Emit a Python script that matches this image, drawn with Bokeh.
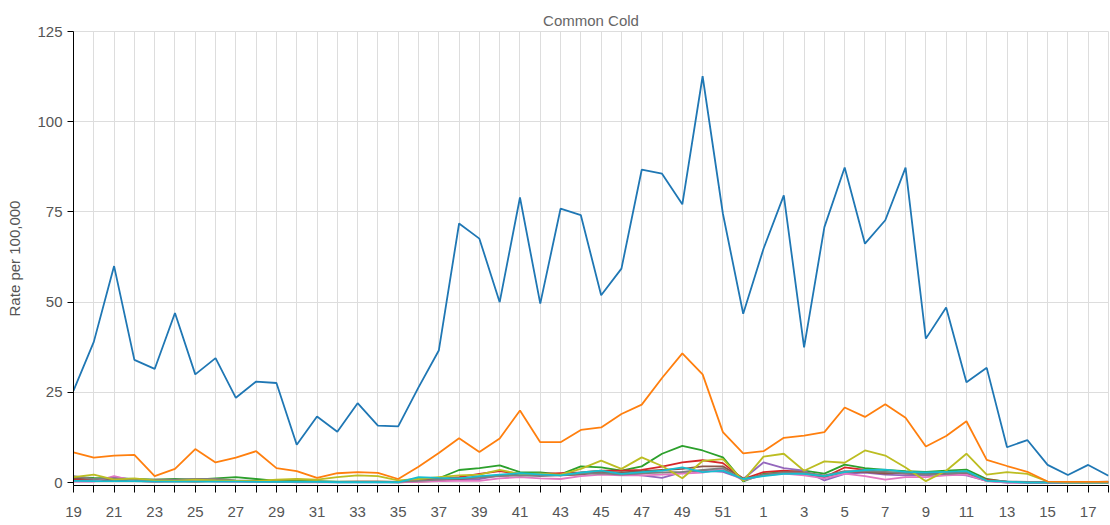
from bokeh.plotting import figure
from bokeh.models import Range1d, FixedTicker
from bokeh.embed import file_html
from bokeh.resources import INLINE

weeks = [str(w) for w in range(19, 53)] + [str(w) for w in range(1, 19)]

blue = [25.5, 39, 60, 34, 31.5, 47, 30, 34.5, 23.5, 28, 27.6, 10.5, 18.3, 14.1, 22, 15.8, 15.6,
        26.4, 36.6, 71.8, 67.6, 50, 79, 49.6, 75.9, 74.1, 51.9, 59.3, 86.7, 85.6, 77.1, 112.6, 74.5, 46.8,
        64.8, 79.6, 37.5, 70.8, 87.3, 66.2, 72.7, 87.3, 39.9, 48.5, 27.8, 31.8, 9.8, 11.8, 4.9, 2.1, 4.9, 1.9]
orange = [8.4, 6.9, 7.5, 7.7, 1.8, 3.8, 9.3, 5.6, 6.9, 8.7, 4.0, 3.2, 1.3, 2.6, 2.9, 2.7, 1.0,
          4.4, 8.2, 12.3, 8.5, 12.2, 20, 11.2, 11.2, 14.6, 15.3, 19.0, 21.6, 29, 35.8, 30, 14, 8.1,
          8.7, 12.4, 13, 14, 20.8, 18.2, 21.7, 18, 10, 12.9, 17, 6.3, 4.6, 3.0, 0.3, 0.2, 0.2, 0.2]
green = [1.5, 1.3, 1.2, 1.0, 0.8, 1.0, 0.8, 1.2, 1.5, 1.0, 0.5, 0.5, 0.4, 0.3, 0.3, 0.3, 0.2,
         1.0, 1.2, 3.5, 4.0, 4.8, 2.9, 2.8, 2.3, 4.5, 4.2, 3.3, 4.5, 8, 10.2, 8.9, 7, 0.3,
         2.4, 3, 3.3, 2.5, 5, 4, 3.5, 3.2, 3.0, 3.3, 3.6, 1.0, 0.2, 0, 0, 0, 0, 0]
red = [0.8, 0.6, 0.5, 0.5, 0.3, 0.4, 0.3, 0.5, 0.4, 0.3, 0.2, 0.2, 0.2, 0.2, 0.3, 0.3, 0.2,
       0.5, 1.0, 1.5, 2.4, 3.2, 2.4, 2.4, 2.6, 2.8, 3.3, 3.3, 3.5, 4.4, 5.6, 6.2, 5.4, 1,
       2.9, 3.3, 2.9, 1.5, 4.2, 3.5, 2.8, 2.5, 2.2, 2.5, 2.8, 0.8, 0.3, 0.1, 0, 0, 0, 0]
purple = [0.5, 0.5, 1.5, 0.8, 0.5, 0.5, 0.5, 0.8, 0.5, 0.3, 0.3, 0.2, 0.2, 0.2, 0.2, 0.2, 0.2,
          0.4, 0.5, 0.8, 1.0, 2.0, 2.3, 2.0, 2.2, 2.5, 2.9, 2.4, 2.0, 1.3, 2.9, 3.3, 3.0, 1,
          5.6, 4, 3.3, 0.6, 2.4, 2.8, 2.2, 2.0, 2.0, 2.4, 2.0, 0.5, 0, 0, 0, 0, 0, 0]
brown = [1.2, 1.0, 0.8, 0.6, 0.5, 0.6, 0.8, 0.6, 0.5, 0.3, 0.2, 0.2, 0.2, 0.2, 0.2, 0.2, 0.1,
         0.3, 0.5, 1.0, 1.5, 2.0, 2.2, 2.5, 2.0, 2.2, 3.0, 2.8, 3.2, 3.5, 3.8, 4.5, 4.5, 1.2,
         2.0, 2.6, 2.4, 1.5, 3.0, 3.0, 2.5, 2.8, 2.4, 2.6, 2.5, 0.5, 0.2, 0.1, 0.1, 0.1, 0.1, 0.3]
pink = [0.3, 0.3, 1.8, 0.5, 0.3, 0.4, 0.6, 0.3, 0.2, 0.2, 0.3, 0.1, 0.1, 0.1, 0.1, 0.1, 0.1,
        0.2, 0.4, 0.5, 0.5, 1.2, 1.5, 1.2, 1.0, 1.8, 2.2, 2.0, 2.0, 2.2, 2.5, 2.8, 3.8, 0.6,
        2.0, 2.5, 2.0, 1.2, 2.5, 1.8, 0.8, 1.5, 1.5, 2.0, 2.2, 0.4, 0, 0, 0, 0, 0, 0]
gray = [1.8, 1.0, 1.2, 0.8, 0.8, 0.8, 1.0, 1.0, 0.6, 0.5, 0.3, 0.3, 0.3, 0.2, 0.2, 0.2, 0.2,
        0.5, 0.8, 1.2, 1.4, 1.8, 2.0, 1.8, 2.0, 2.5, 2.6, 2.2, 2.6, 2.8, 3.0, 3.5, 4.0, 0.8,
        2.2, 2.8, 2.8, 2.0, 3.2, 3.2, 3.0, 2.6, 2.2, 2.4, 2.8, 0.6, 0.3, 0.2, 0.2, 0.2, 0.2, 0.2]
olive = [1.5, 2.2, 0.8, 1.2, 0.6, 0.5, 0.8, 0.6, 0.5, 0.4, 0.8, 1.0, 0.8, 1.5, 2.0, 1.8, 0.6,
         1.0, 1.5, 2.0, 2.2, 3.5, 2.4, 2.5, 2.2, 3.8, 6.1, 3.8, 7, 4.6, 1.2, 6, 6.5, 0.5,
         7.2, 8, 3.3, 5.9, 5.5, 8.9, 7.5, 4.2, 0.4, 3.3, 8, 2.2, 2.9, 2.4, 0.3, 0, 0, 0]
cyan = [0.5, 0.4, 0.4, 0.4, 0.3, 0.3, 0.3, 0.3, 0.3, 0.2, 0.2, 0.2, 0.2, 0.1, 0.1, 0.1, 0.1,
        1.5, 1.3, 1.2, 1.8, 2.2, 2.6, 2.3, 2.0, 2.8, 3.3, 2.4, 2.9, 3.3, 4.2, 2.9, 3.3, 1,
        1.8, 2.4, 2.4, 1.8, 2.9, 3.5, 3.6, 3.0, 2.8, 3.0, 3.2, 0.5, 0.3, 0, 0, 0, 0, 0]

series = [
    (green, "#2ca02c"), (red, "#d62728"), (purple, "#9467bd"), (brown, "#8c564b"),
    (pink, "#e377c2"), (gray, "#7f7f7f"), (olive, "#bcbd22"), (cyan, "#17becf"),
    (orange, "#ff7f0e"), (blue, "#1f77b4"),
]

x = list(range(len(weeks)))

p = figure(width=1109, height=524, output_backend="svg", toolbar_location=None,
           x_range=Range1d(0, len(weeks) - 1), y_range=Range1d(-0.8, 125),
           title="Common Cold",
           min_border_left=73, min_border_right=1, min_border_top=31, min_border_bottom=39)

for vals, col in series:
    p.line(x, vals, line_color=col, line_width=1.8)

p.title.align = "center"
p.title.text_font = "Liberation Sans"
p.title.text_font_size = "15px"
p.title.text_font_style = "normal"
p.title.text_color = "#666666"
p.title.standoff = 6

p.outline_line_color = "#dddddd"
p.background_fill_color = "white"
p.border_fill_color = "white"

# x axis
p.xaxis.ticker = FixedTicker(ticks=x[::2], minor_ticks=x[1::2])
p.xaxis.major_label_overrides = {i: weeks[i] for i in x}
p.xaxis.major_tick_out = 7
p.xaxis.major_tick_in = 0
p.xaxis.minor_tick_out = 7
p.xaxis.minor_tick_in = 0
p.xaxis.minor_tick_line_color = "black"
p.xaxis.major_label_standoff = 14
p.xgrid.ticker = FixedTicker(ticks=x)

# y axis
p.yaxis.ticker = FixedTicker(ticks=[0, 25, 50, 75, 100, 125])
p.yaxis.axis_label = "Rate per 100,000"
p.yaxis.axis_label_text_font_style = "normal"
p.yaxis.axis_label_text_font = "Liberation Sans"
p.yaxis.axis_label_text_font_size = "15px"
p.yaxis.axis_label_text_color = "#555555"
p.yaxis.axis_label_standoff = 11
p.yaxis.major_tick_out = 6
p.yaxis.major_tick_in = 0
p.yaxis.minor_tick_line_color = None
p.yaxis.major_label_standoff = 5

for ax in (p.xaxis, p.yaxis):
    ax.axis_line_color = "black"
    ax.major_tick_line_color = "black"
    ax.major_label_text_font = "Liberation Sans"
    ax.major_label_text_font_size = "15px"
    ax.major_label_text_color = "#555555"

p.xgrid.grid_line_color = "#dddddd"
p.ygrid.grid_line_color = "#dddddd"

open("out.html", "w").write(file_html(p, INLINE))
